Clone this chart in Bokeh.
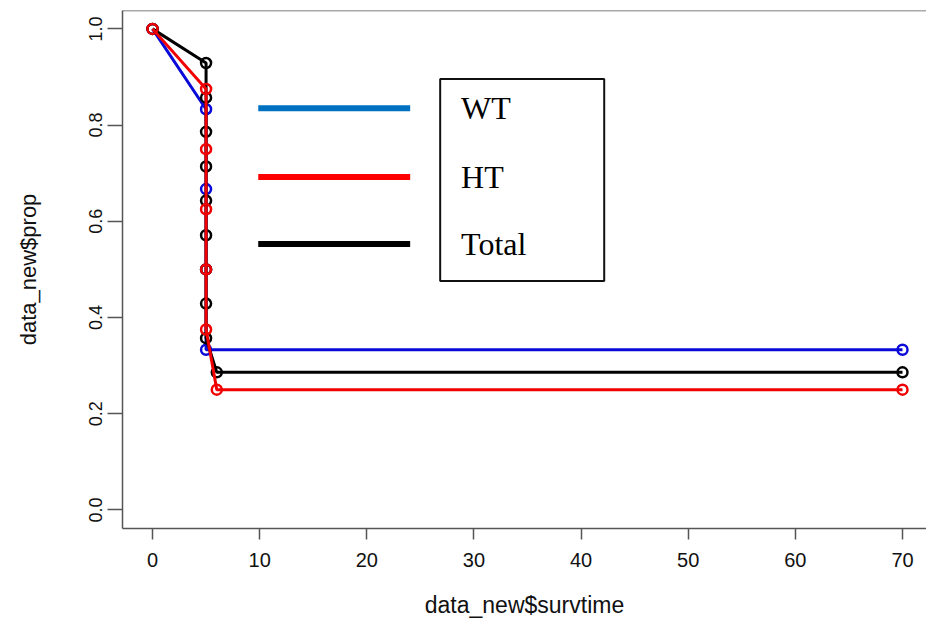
from bokeh.plotting import figure
from bokeh.models import Range1d, FixedTicker, Span
from bokeh.core.properties import value
from bokeh.embed import file_html
from bokeh.resources import INLINE

# ---- data ----
wt_time = [0, 5, 5, 5, 5, 70]
wt_prop = [1.0, 0.833, 0.667, 0.5, 0.333, 0.333]

ht_time = [0, 5, 5, 5, 5, 5, 6, 70]
ht_prop = [1.0, 0.875, 0.75, 0.625, 0.5, 0.375, 0.25, 0.25]

total_time = [0, 5, 5, 5, 5, 5, 5, 5, 5, 5, 6, 70]
total_prop = [1.0, 0.929, 0.857, 0.786, 0.714, 0.643, 0.571, 0.5, 0.429, 0.357, 0.286, 0.286]

x_ticks = [0, 10, 20, 30, 40, 50, 60, 70]
y_ticks = [0.0, 0.2, 0.4, 0.6, 0.8, 1.0]
y_tick_labels = ["0.0", "0.2", "0.4", "0.6", "0.8", "1.0"]

legend_labels = ["WT", "HT", "Total"]

# ---- styles / layout ----
PLOT_BLUE = "#0A0AD8"
PLOT_RED = "#F00000"
PLOT_BLACK = "#000000"
LEG_COLORS = ["#0070C0", "#FF0000", "#000000"]
AXIS_COL = "#555555"

# legend layout in data units
LEG_LINE_X0, LEG_LINE_X1 = 9.87, 24.05
LEG_Y = [0.835, 0.692, 0.553]
LEG_TEXT_X = 28.8
LEG_BOX = (26.85, 42.16, 0.476, 0.896)  # left, right, bottom, top

x_range = Range1d(-2.8, 72.24)
y_range = Range1d(-0.0386, 1.0382)

p = figure(width=926, height=620, output_backend="svg", toolbar_location=None,
           x_range=x_range, y_range=y_range,
           min_border_left=122, min_border_right=0, min_border_top=10,
           min_border_bottom=89)
p.outline_line_color = None
p.xgrid.visible = False
p.ygrid.visible = False
p.background_fill_color = "white"
p.border_fill_color = "white"

# top edge of the box
p.add_layout(Span(location=y_range.end, dimension="width",
                  line_color=AXIS_COL, line_width=1.5))

for ax in (p.xaxis[0], p.yaxis[0]):
    ax.axis_line_color = AXIS_COL
    ax.axis_line_width = 1.5
    ax.major_tick_line_color = AXIS_COL
    ax.major_tick_line_width = 1.5
    ax.major_tick_in = 0
    ax.minor_tick_line_color = None
    ax.major_label_text_font = "Liberation Sans"
    ax.major_label_text_color = "#111111"
    ax.axis_label_text_font = "Liberation Sans"
    ax.axis_label_text_font_style = "normal"
    ax.axis_label_text_color = "#111111"

p.xaxis.ticker = FixedTicker(ticks=x_ticks)
p.xaxis.major_tick_out = 11
p.xaxis.major_label_standoff = 13
p.xaxis.major_label_text_font_size = "20px"
p.xaxis.axis_label = "data_new$survtime"
p.xaxis.axis_label_text_font_size = "23px"
p.xaxis.axis_label_standoff = 22

p.yaxis.ticker = FixedTicker(ticks=y_ticks)
p.yaxis.major_label_overrides = {t: l for t, l in zip(y_ticks, y_tick_labels)}
p.yaxis.major_tick_out = 15
p.yaxis.major_label_orientation = "vertical"
p.yaxis.major_label_standoff = 5
p.yaxis.major_label_text_font_size = "18px"
p.yaxis.axis_label = "data_new$prop"
p.yaxis.axis_label_text_font_size = "22px"
p.yaxis.axis_label_standoff = 46

# series: blue, black, red (red on top)
for xs, ys, col in ((wt_time, wt_prop, PLOT_BLUE),
                    (total_time, total_prop, PLOT_BLACK),
                    (ht_time, ht_prop, PLOT_RED)):
    p.line(xs, ys, line_color=col, line_width=3)
    p.scatter(xs, ys, marker="circle", size=10, fill_color=None,
              line_color=col, line_width=2.5)

# legend (drawn like the reference: lines outside a text box)
p.segment(x0=[LEG_LINE_X0] * 3, x1=[LEG_LINE_X1] * 3, y0=LEG_Y, y1=LEG_Y,
          line_color=LEG_COLORS, line_width=6)
p.quad(left=[LEG_BOX[0]], right=[LEG_BOX[1]], bottom=[LEG_BOX[2]], top=[LEG_BOX[3]],
       fill_color=None, line_color="#111111", line_width=2)
p.text(x=[LEG_TEXT_X] * 3, y=LEG_Y, text=legend_labels,
       text_font=value("Liberation Serif"), text_font_size="32px",
       text_baseline="middle", text_align="left", text_color="#000000")

open("out.html", "w").write(file_html(p, INLINE))
